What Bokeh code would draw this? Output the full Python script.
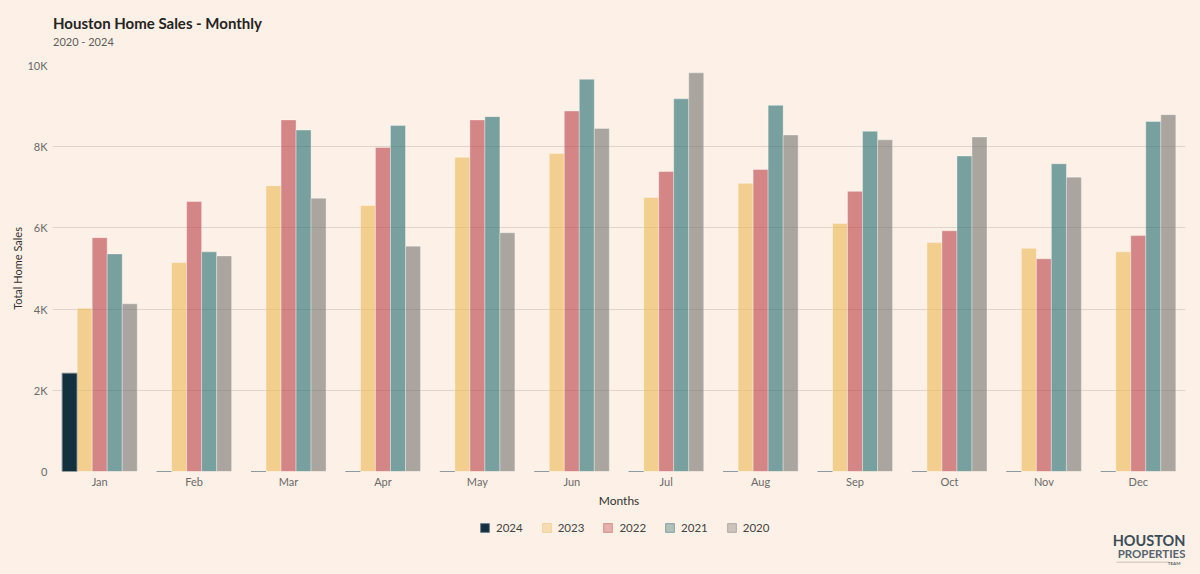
from bokeh.plotting import figure
from bokeh.layouts import column
from bokeh.models import (FactorRange, Range1d, Legend, LegendItem,
                          FixedTicker, ColumnDataSource)
from bokeh.core.properties import value
from bokeh.transform import dodge
from bokeh.embed import file_html
from bokeh.resources import INLINE

# ---------------- data ----------------
months = ["Jan", "Feb", "Mar", "Apr", "May", "Jun",
          "Jul", "Aug", "Sep", "Oct", "Nov", "Dec"]
years = ["2024", "2023", "2022", "2021", "2020"]
sales_2024 = [2420, 0, 0, 0, 0, 0, 0, 0, 0, 0, 0, 0]
sales_2023 = [4020, 5150, 7040, 6550, 7740, 7830, 6750, 7100, 6110, 5640, 5500, 5410]
sales_2022 = [5760, 6650, 8660, 7980, 8660, 8880, 7390, 7440, 6900, 5930, 5240, 5810]
sales_2021 = [5360, 5410, 8410, 8520, 8740, 9660, 9180, 9020, 8380, 7770, 7580, 8620]
sales_2020 = [4130, 5310, 6730, 5550, 5880, 8450, 9820, 8290, 8170, 8240, 7250, 8790]
y_ticks = [0, 2000, 4000, 6000, 8000, 10000]
y_tick_labels = ["0", "2K", "4K", "6K", "8K", "10K"]
title_text = "Houston Home Sales - Monthly"
subtitle_text = "2020 - 2024"

# ---------------- style ----------------
BG = "#fdf0e6"
FONT = "Lato"
W = 1200
LEFT, RIGHT = 52, 15
colors = {"2024": "#13303f", "2023": "#ecb955", "2022": "#b93f48",
          "2021": "#1f6b6e", "2020": "#737370"}
fill_alpha = {"2024": 1.0, "2023": 0.6, "2022": 0.6, "2021": 0.6, "2020": 0.6}
line_col = {"2024": "#6b7f8a", "2023": "#ffffff", "2022": "#ffffff",
            "2021": "#ffffff", "2020": "#ffffff"}
line_alpha = {"2024": 1.0, "2023": 0.35, "2022": 0.35, "2021": 0.35, "2020": 0.35}


def blank(height):
    # frame spans canvas x LEFT..W-RIGHT, so data x == canvas x
    f = figure(width=W, height=height, x_range=Range1d(LEFT, W - RIGHT),
               y_range=Range1d(0, height),
               x_axis_type=None, y_axis_type=None, output_backend="svg",
               toolbar_location=None, min_border_left=LEFT, min_border_right=RIGHT,
               min_border_top=0, min_border_bottom=0, outline_line_color=None,
               background_fill_color=BG, border_fill_color=BG)
    if "frame_align" in f.properties():
        f.frame_align = False
    f.xgrid.visible = False
    f.ygrid.visible = False
    return f


# ---------------- header ----------------
H_HEAD = 56
head = blank(H_HEAD)
head.text(x=[52.5], y=[H_HEAD - 22], text=[title_text], text_font=value(FONT),
          text_font_size="15px", text_font_style="bold", text_color="#252423",
          text_baseline="alphabetic", text_align="left")
head.text(x=[52.5], y=[H_HEAD - 40.5], text=[subtitle_text], text_font=value(FONT),
          text_font_size="11px", text_color="#605e5c",
          text_baseline="alphabetic", text_align="left")

# ---------------- chart ----------------
H_CHART = 454
source = ColumnDataSource(dict(month=months, y2024=sales_2024, y2023=sales_2023,
                               y2022=sales_2022, y2021=sales_2021, y2020=sales_2020))

p = figure(x_range=FactorRange(*months, range_padding=0),
           y_range=Range1d(0, 10000),
           width=W, height=H_CHART, output_backend="svg", toolbar_location=None,
           background_fill_color=BG, border_fill_color=BG, outline_line_color=None,
           min_border_left=LEFT, min_border_right=RIGHT, min_border_top=9,
           min_border_bottom=38)
if "frame_align" in p.properties():
    p.frame_align = False

step = 0.159
offsets = [-2 * step, -step, 0, step, 2 * step]
for yr, off in zip(years, offsets):
    p.vbar(x=dodge("month", off, range=p.x_range), top="y" + yr, width=step,
           source=source, fill_color=colors[yr], fill_alpha=fill_alpha[yr],
           line_color=line_col[yr], line_alpha=line_alpha[yr], line_width=1)

p.yaxis.ticker = FixedTicker(ticks=y_ticks)
p.yaxis.major_label_overrides = {t: l for t, l in zip(y_ticks, y_tick_labels)}
for ax in (p.xaxis[0], p.yaxis[0]):
    ax.axis_line_color = None
    ax.major_tick_line_color = None
    ax.minor_tick_line_color = None
    ax.major_tick_out = 0
    ax.major_tick_in = 0
    ax.minor_tick_out = 0
    ax.major_label_text_font = FONT
    ax.major_label_text_font_size = "11px"
    ax.major_label_text_color = "#6b6b6b"
    ax.axis_label_text_font = FONT
    ax.axis_label_text_font_style = "normal"
    ax.axis_label_text_color = "#333333"
p.yaxis.axis_label = "Total Home Sales"
p.yaxis.axis_label_text_font_size = "11px"
p.yaxis.major_label_standoff = 5
p.yaxis.axis_label_standoff = 0
p.xaxis.axis_label = "Months"
p.xaxis.axis_label_text_font_size = "12px"
p.xaxis.major_label_standoff = 3
p.xaxis.axis_label_standoff = 2

p.xgrid.grid_line_color = None
p.ygrid.grid_line_color = "#e0d3c9"
p.ygrid.grid_line_width = 1

# ---------------- footer: legend + logo ----------------
H_FOOT = 574 - H_HEAD - H_CHART
foot = blank(H_FOOT)
legend_items = []
for yr in years:
    lr = foot.vbar(x=[-100], top=[-100], bottom=[-110], width=5,
                   fill_color=colors[yr], fill_alpha=1.0 if yr == "2024" else 0.35,
                   line_color="#6b7f8a" if yr == "2024" else colors[yr],
                   line_alpha=1.0 if yr == "2024" else 0.45, line_width=1)
    legend_items.append(LegendItem(label=yr, renderers=[lr]))
legend = Legend(items=legend_items, orientation="horizontal",
                location=(479 - LEFT, 574 - 534),
                background_fill_alpha=0, border_line_color=None,
                label_text_font=FONT, label_text_font_size="11.5px",
                label_text_color="#444444", glyph_width=11, glyph_height=11,
                label_height=11, label_standoff=6, spacing=18, margin=0, padding=0)
foot.add_layout(legend)

logo_col = "#3b4d59"
foot.text(x=[1185], y=[574 - 540], text=["HOUSTON"], text_font=value(FONT),
          text_font_size="14.5px", text_font_style="bold", text_color=logo_col,
          text_align="right", text_baseline="alphabetic")
foot.text(x=[1185], y=[574 - 553], text=["PROPERTIES"], text_font=value(FONT),
          text_font_size="11.5px", text_font_style="bold", text_color="#566571",
          text_align="right", text_baseline="alphabetic")
foot.segment(x0=[1116], y0=[574 - 561.7], x1=[1168], y1=[574 - 561.7],
             line_color="#c9c2bb", line_width=1)
foot.text(x=[1180], y=[574 - 563], text=["TEAM"], text_font=value(FONT),
          text_font_size="4.5px", text_font_style="bold", text_color="#566571",
          text_align="right", text_baseline="alphabetic")

layout = column(head, p, foot, spacing=0, styles={"background-color": BG})
open("out.html", "w").write(file_html(layout, INLINE))
